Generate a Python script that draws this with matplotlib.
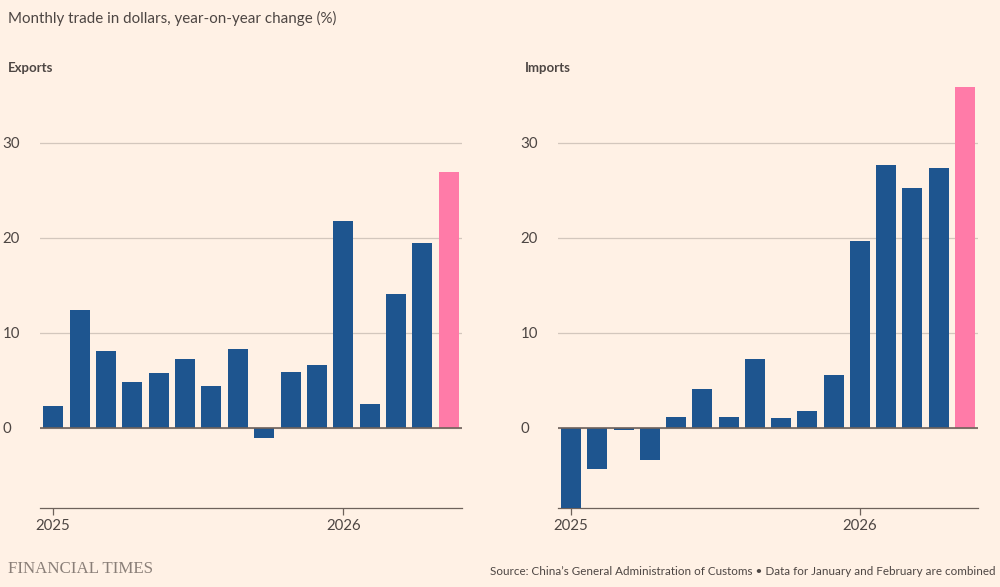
import numpy as np
import matplotlib.pyplot as plt

# year-on-year change, %, Jan+Feb combined in first bar of each year
exports = [2.3, 12.4, 8.1, 4.8, 5.8, 7.2, 4.4, 8.3, -1.1, 5.9, 6.6, 21.8, 2.5, 14.1, 19.4, 26.9]
imports = [-8.4, -4.3, -0.2, -3.4, 1.1, 4.1, 1.2, 7.3, 1.0, 1.8, 5.6, 19.7, 27.7, 25.2, 27.3, 35.9]
year_pos = [0, 11]
year_labels = ["2025", "2026"]
yticks = [0, 10, 20, 30]

bg = "#FFF1E5"
blue = "#1E558F"
pink = "#FF7BA8"
txt = "#4d4643"
grid = "#d3c7bd"
axc = "#6e625b"

plt.rcParams['font.family'] = ['Lato', 'DejaVu Sans']

fig = plt.figure(figsize=(10, 5.87), dpi=100, facecolor=bg)

def panel(rect, vals):
    ax = fig.add_axes(rect)
    ax.set_facecolor(bg)
    x = np.arange(len(vals))
    cols = [blue] * (len(vals) - 1) + [pink]
    ax.bar(x, vals, width=0.76, color=cols, zorder=3)
    ax.set_xlim(-0.5, len(vals) - 0.5)
    ax.set_ylim(-8.4, 36)
    for s in ["top", "right", "left"]:
        ax.spines[s].set_visible(False)
    ax.spines["bottom"].set_color(axc)
    ax.spines["bottom"].set_linewidth(0.9)
    ax.set_yticks(yticks)
    ax.set_yticklabels([str(t) for t in yticks])
    ax.tick_params(axis="y", length=0, labelsize=10.8, labelcolor=txt)
    for lab in ax.get_yticklabels():
        lab.set_horizontalalignment("left")
    ax.yaxis.set_tick_params(pad=27)
    ax.yaxis.grid(True, color=grid, linewidth=0.9, zorder=0)
    ax.axhline(0, color=axc, linewidth=1.2, zorder=4)
    ax.set_xticks(year_pos)
    ax.set_xticklabels(year_labels)
    ax.tick_params(axis="x", length=5, width=0.9, color=axc, pad=3,
                   labelsize=10.8, labelcolor=txt)
    return ax

ax1 = panel([0.04, 0.135, 0.422, 0.719], exports)
ax2 = panel([0.558, 0.135, 0.42, 0.719], imports)

fig.text(0.008, 0.968, "Monthly trade in dollars, year-on-year change (%)",
         fontsize=10.9, color=txt, va="center")
fig.text(0.008, 0.885, "Exports", fontsize=9.5, fontweight="bold", color=txt, va="center")
fig.text(0.525, 0.885, "Imports", fontsize=9.5, fontweight="bold", color=txt, va="center")
fig.text(0.008, 0.030, "FINANCIAL TIMES", fontsize=12.2, color="#8a7f78",
         family="Liberation Serif", va="center")
fig.text(0.995, 0.027,
         "Source: China\u2019s General Administration of Customs \u2022 Data for January and February are combined",
         fontsize=8.4, color=txt, ha="right", va="center")

fig.savefig("out.png", dpi=100, facecolor=bg)
